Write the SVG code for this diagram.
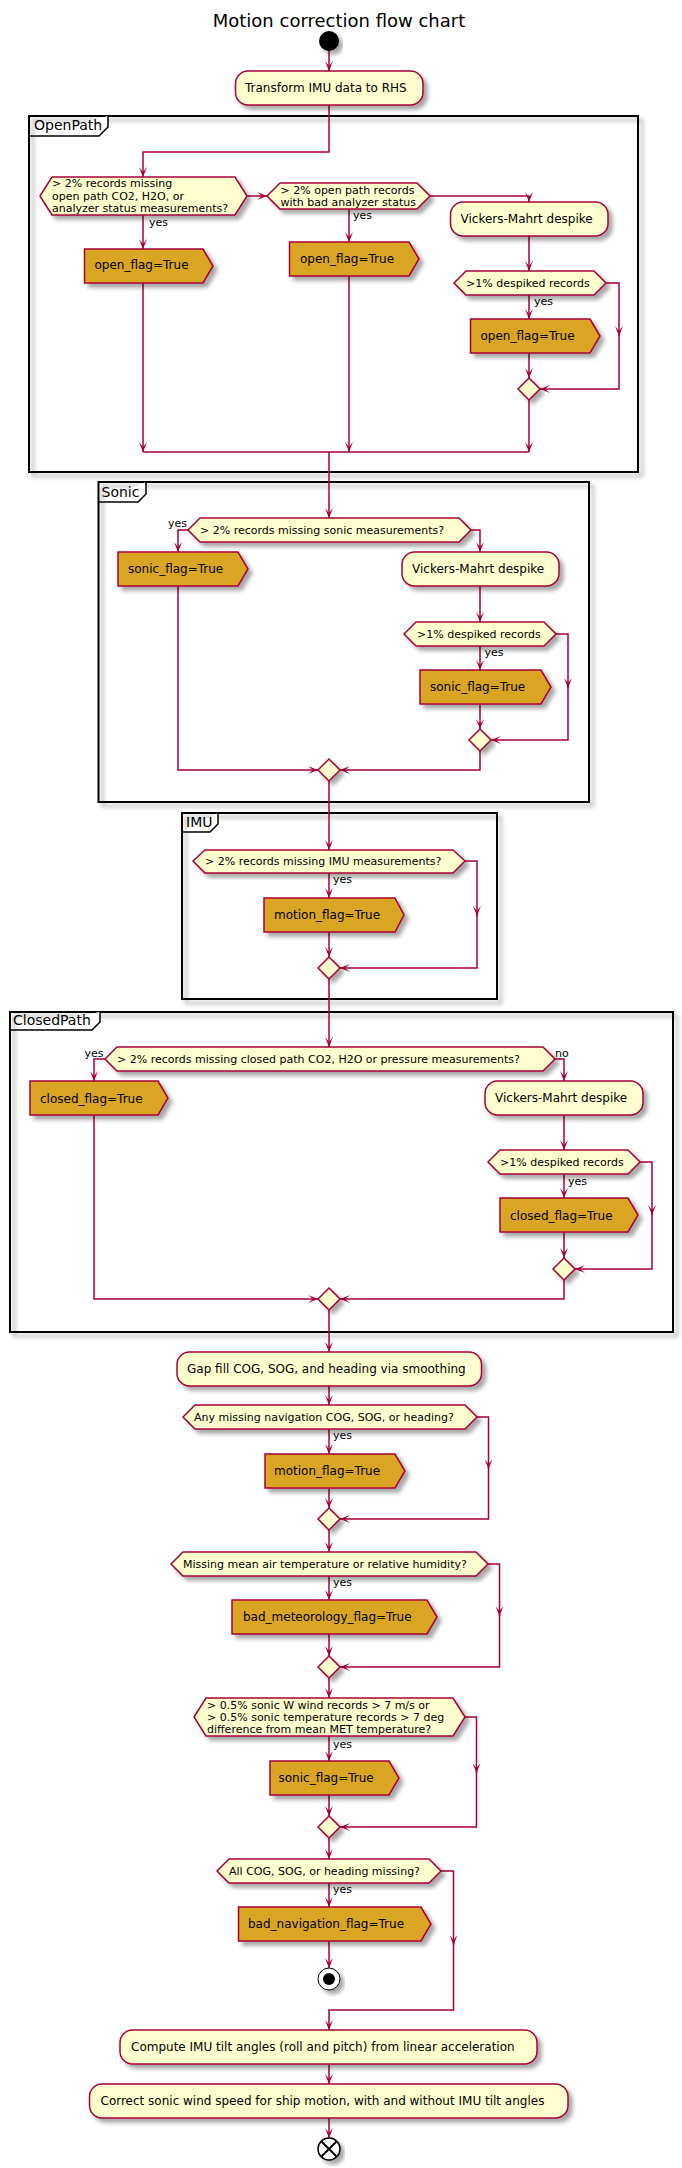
<svg xmlns="http://www.w3.org/2000/svg" width="682" height="2168" viewBox="0 0 682 2168">
<style>
.ln{fill:none;stroke:#A80036;stroke-width:1.5}
.act{fill:#FEFECE;stroke:#A80036;stroke-width:1.5;filter:url(#sh)}
.flag{fill:#DAA520;stroke:#A80036;stroke-width:1.5;filter:url(#sh)}
.frame{fill:none;stroke:#000;stroke-width:2;filter:url(#sh)}
.tab{fill:#fff;stroke:#000;stroke-width:1.5}
text{font-family:"DejaVu Sans","Noto Sans",sans-serif;fill:#000}
.t12{font-size:12px}
.t11{font-size:11px}
.t14{font-size:14px}
</style>
<defs>
<filter id="sh" x="-10%" y="-10%" width="130%" height="140%">
<feGaussianBlur in="SourceAlpha" stdDeviation="2"/>
<feOffset dx="4" dy="4" result="b"/>
<feComponentTransfer><feFuncA type="linear" slope="0.35"/></feComponentTransfer>
<feMerge><feMergeNode/><feMergeNode in="SourceGraphic"/></feMerge>
</filter>
<marker id="ah" markerUnits="userSpaceOnUse" markerWidth="10" markerHeight="8" viewBox="0 0 10 8" refX="10" refY="4" orient="auto">
<path d="M0,0 L10,4 L0,8 L5,4 Z" fill="#A80036"/>
</marker>
</defs>

<text x="339" y="27" text-anchor="middle" style="font-size:18px">Motion correction flow chart</text>

<g id="frames">
<g id="OpenPath">
<rect class="frame" x="29" y="116" width="609" height="356"/>
<path class="tab" d="M29,136 H99 L108,127 V116"/>
<text class="t14" x="34" y="130">OpenPath</text>
</g>
<g id="Sonic">
<rect class="frame" x="98.5" y="482" width="490.5" height="320"/>
<path class="tab" d="M98.5,502 H138 L146,494 V482"/>
<text class="t14" x="101.5" y="497">Sonic</text>
</g>
<g id="IMU">
<rect class="frame" x="182" y="813" width="315" height="186"/>
<path class="tab" d="M182,832 H210 L218,824 V813"/>
<text class="t14" x="186" y="827">IMU</text>
</g>
<g id="ClosedPath">
<rect class="frame" x="10" y="1012" width="663" height="320"/>
<path class="tab" d="M10,1030 H92 L100,1022 V1012"/>
<text class="t14" x="13" y="1025">ClosedPath</text>
</g>
</g>

<g id="connectors" class="ln" marker-end="url(#ah)">
<path d="M329,51 V71"/>
<path d="M329,105 V152 H143 V177"/>
<path d="M143,215 V249"/>
<path d="M247,196 H267"/>
<path d="M349,209 V242"/>
<path d="M430,196 H529 V202"/>
<path d="M529,236 V271"/>
<path d="M529,295 V319"/>
<path d="M529,353 V378"/>
<path d="M606,283 H619 V336"/>
<path d="M619,334 V389 H540"/>
<path d="M529,400 V452"/>
<path d="M143,283 V452"/>
<path d="M349,276 V452"/>
<path d="M143,452 H529" marker-end="none"/>
<path d="M329,452 V518"/>

<path d="M188,530 H178 V552"/>
<path d="M471,530 H480 V552"/>
<path d="M480,586 V622"/>
<path d="M480,646 V670"/>
<path d="M480,704 V729"/>
<path d="M556,634 H568 V688"/>
<path d="M568,686 V740 H491"/>
<path d="M178,586 V770 H318"/>
<path d="M480,751 V770 H340"/>
<path d="M329,781 V850"/>

<path d="M329,873 V898"/>
<path d="M329,932 V957"/>
<path d="M465,861 H477 V916"/>
<path d="M477,914 V968 H340"/>
<path d="M329,979 V1047"/>

<path d="M105,1059 H94 V1081"/>
<path d="M555,1059 H564 V1081"/>
<path d="M564,1115 V1150"/>
<path d="M564,1174 V1198"/>
<path d="M564,1232 V1258"/>
<path d="M640,1162 H652 V1215"/>
<path d="M652,1213 V1269 H575"/>
<path d="M94,1115 V1299 H318"/>
<path d="M564,1280 V1299 H340"/>
<path d="M329,1310 V1352"/>

<path d="M329,1386 V1405"/>
<path d="M329,1429 V1454"/>
<path d="M329,1488 V1508"/>
<path d="M477,1417 H488.5 V1469"/>
<path d="M488.5,1467 V1519 H340"/>
<path d="M329,1530 V1552"/>
<path d="M329,1576 V1600"/>
<path d="M329,1634 V1656"/>
<path d="M488,1564 H499.5 V1616"/>
<path d="M499.5,1614 V1667 H340"/>
<path d="M329,1678 V1698"/>
<path d="M329,1736 V1761"/>
<path d="M329,1795 V1816"/>
<path d="M465,1717 H476.5 V1773"/>
<path d="M476.5,1771 V1827 H340"/>
<path d="M329,1838 V1859"/>
<path d="M329,1883 V1907"/>
<path d="M329,1941 V1968"/>
<path d="M441,1871 H453.5 V1945"/>
<path d="M453.5,1943 V2010 H329 V2030"/>
<path d="M329,2064 V2084"/>
<path d="M329,2118 V2138"/>
</g>

<g id="labels" class="t11">
<text x="149" y="226">yes</text>
<text x="353" y="219">yes</text>
<text x="534" y="305">yes</text>
<text x="187" y="527" text-anchor="end">yes</text>
<text x="484.5" y="656">yes</text>
<text x="333" y="883">yes</text>
<text x="103.5" y="1057" text-anchor="end">yes</text>
<text x="555" y="1057">no</text>
<text x="568" y="1185">yes</text>
<text x="333" y="1439">yes</text>
<text x="333" y="1586">yes</text>
<text x="333" y="1748">yes</text>
<text x="333" y="1893">yes</text>
</g>

<g id="start"><circle cx="329" cy="41" r="10" fill="#000" filter="url(#sh)"/></g>

<g id="transform"><rect class="act" x="235.5" y="71" width="187.5" height="34" rx="12.5"/><text class="t12" x="245" y="92">Transform IMU data to RHS</text></g>

<g id="op_d1"><polygon class="act" points="40,196 52,177 235,177 247,196 235,215 52,215"/>
<text class="t11" x="52" y="187">&gt; 2% records missing</text>
<text class="t11" x="52" y="200">open path CO2, H2O, or</text>
<text class="t11" x="52" y="212">analyzer status measurements?</text></g>
<g id="op_f1"><polygon class="flag" points="84.5,249 203,249 213,266 203,283 84.5,283"/><text class="t12" x="94.5" y="269">open_flag=True</text></g>
<g id="op_d2"><polygon class="act" points="267,196 280,183 417,183 430,196 417,209 280,209"/>
<text class="t11" x="280.5" y="194">&gt; 2% open path records</text>
<text class="t11" x="280.5" y="206">with bad analyzer status</text></g>
<g id="op_f2"><polygon class="flag" points="289.5,242 409,242 419,259 409,276 289.5,276"/><text class="t12" x="300" y="263">open_flag=True</text></g>
<g id="op_v"><rect class="act" x="450.5" y="202" width="157.5" height="34" rx="12.5"/><text class="t12" x="460.5" y="223">Vickers-Mahrt despike</text></g>
<g id="op_d3"><polygon class="act" points="454,283 466,271 594,271 606,283 594,295 466,295"/><text class="t11" x="466" y="287">&gt;1% despiked records</text></g>
<g id="op_f3"><polygon class="flag" points="470.5,319 590,319 600,336 590,353 470.5,353"/><text class="t12" x="480.5" y="340">open_flag=True</text></g>
<g id="op_m"><polygon class="act" points="529,378 540,389 529,400 518,389"/></g>

<g id="so_d1"><polygon class="act" points="188,530 200,518 459,518 471,530 459,542 200,542"/><text class="t11" x="200" y="534">&gt; 2% records missing sonic measurements?</text></g>
<g id="so_f1"><polygon class="flag" points="118,552 238,552 248,569 238,586 118,586"/><text class="t12" x="128" y="573">sonic_flag=True</text></g>
<g id="so_v"><rect class="act" x="402" y="552" width="157" height="34" rx="12.5"/><text class="t12" x="412" y="573">Vickers-Mahrt despike</text></g>
<g id="so_d2"><polygon class="act" points="404,634 416,622 544,622 556,634 544,646 416,646"/><text class="t11" x="417" y="638">&gt;1% despiked records</text></g>
<g id="so_f2"><polygon class="flag" points="420,670 541,670 551,687 541,704 420,704"/><text class="t12" x="430" y="691">sonic_flag=True</text></g>
<g id="so_m1"><polygon class="act" points="480,729 491,740 480,751 469,740"/></g>
<g id="so_m2"><polygon class="act" points="329,759 340,770 329,781 318,770"/></g>

<g id="imu_d"><polygon class="act" points="193,861 205,850 453,850 465,861 453,873 205,873"/><text class="t11" x="205" y="865">&gt; 2% records missing IMU measurements?</text></g>
<g id="imu_f"><polygon class="flag" points="264,898 395,898 404,915 395,932 264,932"/><text class="t12" x="274" y="919">motion_flag=True</text></g>
<g id="imu_m"><polygon class="act" points="329,957 340,968 329,979 318,968"/></g>

<g id="cp_d1"><polygon class="act" points="105,1059 117,1047 543,1047 555,1059 543,1071 117,1071"/><text class="t11" x="117" y="1063">&gt; 2% records missing closed path CO2, H2O or pressure measurements?</text></g>
<g id="cp_f1"><polygon class="flag" points="30,1081 158,1081 168,1098 158,1115 30,1115"/><text class="t12" x="40" y="1103">closed_flag=True</text></g>
<g id="cp_v"><rect class="act" x="485" y="1081" width="158" height="34" rx="12.5"/><text class="t12" x="495" y="1102">Vickers-Mahrt despike</text></g>
<g id="cp_d2"><polygon class="act" points="488,1162 500,1150 628,1150 640,1162 628,1174 500,1174"/><text class="t11" x="500" y="1166">&gt;1% despiked records</text></g>
<g id="cp_f2"><polygon class="flag" points="500,1198 628,1198 638,1215 628,1232 500,1232"/><text class="t12" x="510" y="1220">closed_flag=True</text></g>
<g id="cp_m1"><polygon class="act" points="564,1258 575,1269 564,1280 553,1269"/></g>
<g id="cp_m2"><polygon class="act" points="329,1288 340,1299 329,1310 318,1299"/></g>

<g id="gapfill"><rect class="act" x="177" y="1352" width="304.5" height="34" rx="12.5"/><text class="t12" x="187" y="1373">Gap fill COG, SOG, and heading via smoothing</text></g>
<g id="nav_d"><polygon class="act" points="183,1417 195,1405 465,1405 477,1417 465,1429 195,1429"/><text class="t11" x="194" y="1421">Any missing navigation COG, SOG, or heading?</text></g>
<g id="nav_f"><polygon class="flag" points="265,1454 395,1454 405,1471 395,1488 265,1488"/><text class="t12" x="274" y="1475">motion_flag=True</text></g>
<g id="nav_m"><polygon class="act" points="329,1508 340,1519 329,1530 318,1519"/></g>
<g id="met_d"><polygon class="act" points="171,1564 183,1552 476,1552 488,1564 476,1576 183,1576"/><text class="t11" x="183" y="1568">Missing mean air temperature or relative humidity?</text></g>
<g id="met_f"><polygon class="flag" points="232,1600 427,1600 437,1617 427,1634 232,1634"/><text class="t12" x="243" y="1621">bad_meteorology_flag=True</text></g>
<g id="met_m"><polygon class="act" points="329,1656 340,1667 329,1678 318,1667"/></g>
<g id="son_d"><polygon class="act" points="194,1717 206,1698 453,1698 465,1717 453,1736 206,1736"/>
<text class="t11" x="207" y="1709">&gt; 0.5% sonic W wind records &gt; 7 m/s or</text>
<text class="t11" x="207" y="1721">&gt; 0.5% sonic temperature records &gt; 7 deg</text>
<text class="t11" x="207" y="1733">difference from mean MET temperature?</text></g>
<g id="son_f"><polygon class="flag" points="270,1761 389,1761 399,1778 389,1795 270,1795"/><text class="t12" x="278.5" y="1782">sonic_flag=True</text></g>
<g id="son_m"><polygon class="act" points="329,1816 340,1827 329,1838 318,1827"/></g>
<g id="all_d"><polygon class="act" points="217,1871 229,1859 429,1859 441,1871 429,1883 229,1883"/><text class="t11" x="229" y="1875">All COG, SOG, or heading missing?</text></g>
<g id="all_f"><polygon class="flag" points="238.5,1907 421,1907 431,1924 421,1941 238.5,1941"/><text class="t12" x="248" y="1928">bad_navigation_flag=True</text></g>
<g id="stop"><circle cx="329" cy="1979" r="11" fill="#fff" stroke="#000" stroke-width="1" filter="url(#sh)"/><circle cx="329" cy="1979" r="6" fill="#000"/></g>
<g id="tilt"><rect class="act" x="120" y="2030" width="417" height="34" rx="12.5"/><text class="t12" x="131" y="2051">Compute IMU tilt angles (roll and pitch) from linear acceleration</text></g>
<g id="correct"><rect class="act" x="89.5" y="2084" width="478.5" height="34" rx="12.5"/><text class="t12" x="100.5" y="2105">Correct sonic wind speed for ship motion, with and without IMU tilt angles</text></g>
<g id="end"><circle cx="329" cy="2149" r="11" fill="#fff" stroke="#000" stroke-width="1.5" filter="url(#sh)"/><path d="M321.2,2141.2 L336.8,2156.8 M336.8,2141.2 L321.2,2156.8" stroke="#000" stroke-width="2"/></g>
</svg>
